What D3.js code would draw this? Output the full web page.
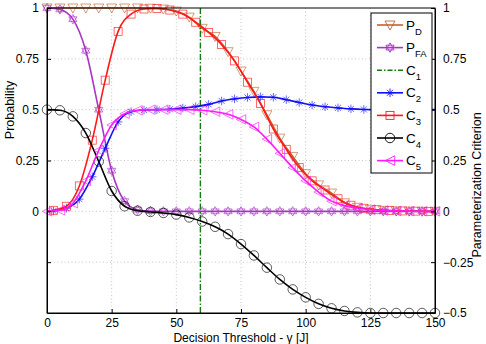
<!DOCTYPE html>
<html><head><meta charset="utf-8">
<script src="https://cdn.jsdelivr.net/npm/d3@7"></script>
<style>body{margin:0;background:#fff}svg{display:block;font-family:"Liberation Sans",Arial,sans-serif}</style>
</head><body>
<svg id="c" width="486" height="344"></svg>
<script>
// ---- data ----
const xGrid = [0,5,10,15,20,25,30,35,40,45,50,55,60,65,70,75,80,85,90,95,100,105,110,115,120,125,130,135,140,145,150];
const pD  = [1,1,1,1,1,1,1,1,0.999,0.995,0.985,0.955,0.9,0.86,0.785,0.69,0.59,0.475,0.36,0.27,0.185,0.13,0.09,0.042,0.02,0.01,0.005,0.002,0.001,0,0];
const pFA = [1,0.993,0.945,0.79,0.5,0.2,0.05,0.008,0.001,0,0,0,0,0,0,0,0,0,0,0,0,0,0,0,0,0,0,0,0,0,0];
const c4  = [0.5,0.497,0.467,0.385,0.245,0.1,0.025,0.003,-0.003,-0.008,-0.016,-0.03,-0.05,-0.076,-0.112,-0.161,-0.217,-0.277,-0.335,-0.384,-0.423,-0.455,-0.477,-0.49,-0.497,-0.5,-0.5,-0.5,-0.5,-0.5,-0.5];
const c5  = [0,0.005,0.04,0.15,0.3,0.425,0.48,0.497,0.5,0.5,0.5,0.5,0.497,0.49,0.477,0.452,0.415,0.355,0.285,0.215,0.15,0.095,0.05,0.028,0.016,0.008,0.004,0.002,0.001,0,0];
const xOff = [0,2.5,7.5,12.5,17.5,22.5,27.5,32.5,37.5,42.5,47.5,52.5,57.5,62.5,67.5,72.5,77.5,82.5,87.5,92.5,97.5,102.5,107.5,112.5,117.5,122.5,127.5,132.5,137.5,142.5,147.5,150];
const c2  = [0,0.002,0.015,0.06,0.17,0.31,0.44,0.49,0.498,0.5,0.502,0.508,0.515,0.526,0.543,0.553,0.56,0.563,0.561,0.549,0.535,0.523,0.514,0.509,0.504,0.501,0.5,0.5,0.5,0.5,0.5,0.5];
const c3  = [0,0.005,0.025,0.125,0.35,0.645,0.885,0.97,0.995,0.998,0.99,0.97,0.93,0.88,0.82,0.74,0.635,0.53,0.405,0.305,0.215,0.15,0.105,0.062,0.03,0.015,0.008,0.004,0.002,0.001,0,0];
const c1Threshold = 59.3;
const xTicks = [0,25,50,75,100,125,150];
const leftTicks = [0,0.25,0.5,0.75,1];
const leftTickMarks = [-0.25,0,0.25,0.5,0.75,1];
const rightTicks = [-0.5,-0.25,0,0.25,0.5,0.75,1];
const legendLabels = [["P","D"],["P","FA"],["C","1"],["C","2"],["C","3"],["C","4"],["C","5"]];

// ---- layout ----
const svg = d3.select("#c");
const x = d3.scaleLinear().domain([0,150]).range([47,435]);
const y = d3.scaleLinear().domain([-0.5,1]).range([313,8]);
const col = {pd:"#c0622e", pfa:"#a834c4", c1:"#137a13", c2:"#1010ff", c3:"#ff1a1a", c4:"#000", c5:"#ff1aff"};

svg.append("rect").attr("width",486).attr("height",344).attr("fill","#fff");

// grid
const g = svg.append("g");
g.selectAll("line.gx").data(xTicks.slice(1,-1)).join("line")
  .attr("x1",d=>x(d)).attr("x2",d=>x(d)).attr("y1",y(1)).attr("y2",y(-0.5))
  .attr("stroke","#b8b8b8").attr("stroke-width",0.8).attr("stroke-dasharray","1,2.5");
g.selectAll("line.gy").data([-0.25,0,0.25,0.5,0.75]).join("line")
  .attr("x1",x(0)).attr("x2",x(150)).attr("y1",d=>y(d)).attr("y2",d=>y(d))
  .attr("stroke","#b8b8b8").attr("stroke-width",0.8).attr("stroke-dasharray","1,2.5");

// marker shapes
function marker(sel, type, s){
  const h = s/2;
  if(type==="tdown") sel.append("path").attr("d",`M${-h},${-h*0.8}L${h},${-h*0.8}L0,${h}Z`);
  else if(type==="tleft") sel.append("path").attr("d",`M${-h},0L${h},${-h}L${h},${h}Z`);
  else if(type==="square") sel.append("rect").attr("x",-h).attr("y",-h).attr("width",s).attr("height",s);
  else if(type==="circle") sel.append("circle").attr("r",h);
  else if(type==="hex"){
    const r=h, p1=[],p2=[];
    for(let i=0;i<3;i++){const a=-Math.PI/2+i*2*Math.PI/3; p1.push([r*Math.cos(a),r*Math.sin(a)]);
      const b=Math.PI/2+i*2*Math.PI/3; p2.push([r*Math.cos(b),r*Math.sin(b)]);}
    sel.append("path").attr("d","M"+p1.join("L")+"Z M"+p2.join("L")+"Z");
  } else if(type==="ast"){
    let d="";
    for(let i=0;i<4;i++){const a=i*Math.PI/4; d+=`M${-h*Math.cos(a)},${-h*Math.sin(a)}L${h*Math.cos(a)},${h*Math.sin(a)}`;}
    sel.append("path").attr("d",d);
  }
}

const plot = svg.append("g");
function series(xs, ys, color, type, size, markIdx){
  const pts = xs.map((d,i)=>[d,ys[i]]);
  const line = d3.line().x(d=>x(d[0])).y(d=>y(d[1])).curve(d3.curveMonotoneX);
  plot.append("path").attr("d",line(pts)).attr("fill","none").attr("stroke",color).attr("stroke-width",1.6);
  const mk = markIdx ? pts.filter((d,i)=>markIdx(i)) : pts;
  mk.forEach(p=>{
    const m = plot.append("g").attr("transform",`translate(${x(p[0])},${y(p[1])})`)
      .attr("fill","none").attr("stroke",color).attr("stroke-width",0.8).attr("stroke-opacity",0.8);
    marker(m,type,size);
  });
}

series(xGrid,pD,col.pd,"tdown",10);
series(xGrid,pFA,col.pfa,"hex",9.5);
plot.append("line").attr("x1",x(c1Threshold)).attr("x2",x(c1Threshold)).attr("y1",y(1)).attr("y2",y(-0.5))
  .attr("stroke",col.c1).attr("stroke-width",1.4).attr("stroke-dasharray","6,2,1.5,2");
series(xOff,c2,col.c2,"ast",8.5,i=>i>0&&i<xOff.length-1);
series(xOff,c3,col.c3,"square",8,i=>i>0&&i<xOff.length-1);
series(xGrid,c4,col.c4,"circle",9.5);
series(xGrid,c5,col.c5,"tleft",9.5);

// box & axes
const ax = svg.append("g").attr("font-size",12).attr("fill","#000");
ax.append("rect").attr("x",x(0)).attr("y",y(1)).attr("width",x(150)-x(0)).attr("height",y(-0.5)-y(1))
  .attr("fill","none").attr("stroke","#000").attr("stroke-width",1);
const xa = svg.append("g").attr("transform",`translate(0,${y(-0.5)})`)
  .call(d3.axisBottom(x).tickValues(xTicks).tickSize(-4).tickSizeOuter(0).tickPadding(5));
const ya = svg.append("g").attr("transform",`translate(${x(0)},0)`)
  .call(d3.axisLeft(y).tickValues(leftTickMarks).tickSize(-4).tickSizeOuter(0).tickPadding(8)
  .tickFormat(d=>leftTicks.includes(d)?d3.format("~g")(d):""));
const yr = svg.append("g").attr("transform",`translate(${x(150)},0)`)
  .call(d3.axisRight(y).tickValues(rightTicks).tickSize(-4).tickSizeOuter(0).tickPadding(8)
  .tickFormat(d3.format("~g")));
[xa,ya,yr].forEach(a=>{a.select(".domain").attr("stroke","#000");
  a.selectAll("text").attr("font-size",12).attr("font-family","Liberation Sans, Arial, sans-serif").attr("fill","#000");
  a.selectAll("line").attr("stroke","#000");});

svg.append("text").attr("x",241).attr("y",342).attr("text-anchor","middle").attr("font-size",12)
  .text("Decision Threshold - γ [J]");
svg.append("text").attr("transform","translate(14,110) rotate(-90)").attr("text-anchor","middle").attr("font-size",12.5)
  .text("Probability");
svg.append("text").attr("transform","translate(481,185) rotate(-90)").attr("text-anchor","middle").attr("font-size",12.5)
  .text("Parameterization Criterion");

// legend
const lg = svg.append("g").attr("transform","translate(371,13)");
lg.append("rect").attr("width",61).attr("height",160).attr("fill","#fff").attr("stroke","#000").attr("stroke-width",1);
const legItems = [
  {c:col.pd,t:"tdown",s:10},{c:col.pfa,t:"hex",s:9.5},{c:col.c1,t:null},{c:col.c2,t:"ast",s:8.5},
  {c:col.c3,t:"square",s:8},{c:col.c4,t:"circle",s:9.5},{c:col.c5,t:"tleft",s:9.5}];
legItems.forEach((it,i)=>{
  const yy = 12 + i*22.6;
  const row = lg.append("g").attr("transform",`translate(0,${yy})`);
  row.append("line").attr("x1",6).attr("x2",32).attr("y1",0).attr("y2",0).attr("stroke",it.c)
    .attr("stroke-width",it.t?1.6:1.4).attr("stroke-dasharray",it.t?null:"5,2,1.5,2");
  if(it.t){const m=row.append("g").attr("transform","translate(19,0)").attr("fill","none").attr("stroke",it.c).attr("stroke-width",0.9);
    marker(m,it.t,it.s);}
  const tx = row.append("text").attr("x",35).attr("y",4.5).attr("font-size",13.5);
  tx.append("tspan").text(legendLabels[i][0]);
  tx.append("tspan").attr("dy",5).attr("font-size",9.5).text(legendLabels[i][1]);
});
</script>
</body></html>
